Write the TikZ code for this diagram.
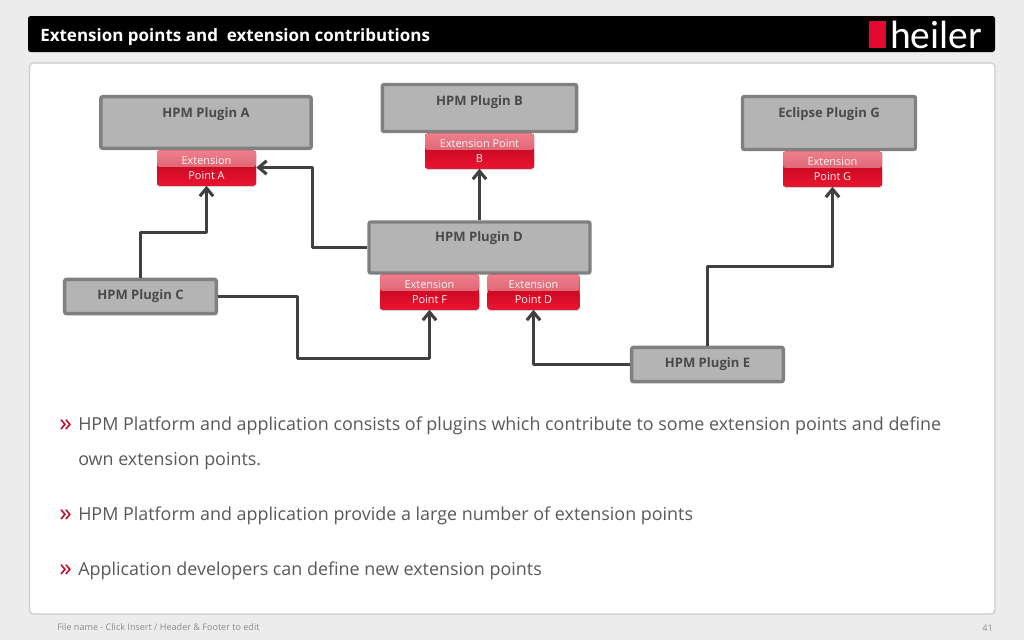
\documentclass[tikz,border=0pt]{standalone}
\usepackage{fontspec}
\setmainfont{Open Sans}
\newfontfamily\logofont{Carlito}
\usetikzlibrary{arrows.meta,calc,shadows}
\definecolor{pagebg}{HTML}{ECECEC}
\definecolor{plugfill}{HTML}{B4B4B4}
\definecolor{plugline}{HTML}{808080}
\definecolor{plugtext}{HTML}{4A4A4A}
\definecolor{redtop}{HTML}{EE7F8C}
\definecolor{redmid}{HTML}{D04A5C}
\definecolor{reddark}{HTML}{CF0A24}
\definecolor{redlow}{HTML}{EA1431}
\definecolor{linkcol}{HTML}{404040}
\definecolor{bodytext}{HTML}{595959}
\definecolor{logored}{HTML}{E30A32}
\definecolor{footcol}{HTML}{8C8C8C}
\tikzset{
  x=0.75pt,y=-0.75pt,
  plugbox/.style={draw=plugline,line width=2.6pt,fill=plugfill,rounded corners=1.5pt,inner sep=0pt},
  plugtitle/.style={text=plugtext,font=\fontsize{9.8}{12}\selectfont\bfseries,anchor=center,inner sep=0pt},
  extpoint/.style={rounded corners=2pt,inner sep=0pt,align=center,text=white!88!pink,
    font=\fontsize{8.2}{11.6}\selectfont,fill=reddark,
    drop shadow={shadow xshift=0pt,shadow yshift=-1.2pt,opacity=.35},
    path picture={
      \fill[top color=redtop,bottom color=redmid]
        (path picture bounding box.north west) rectangle
        ($(path picture bounding box.east)+(0,-1)$);
      \fill[top color=reddark,bottom color=redlow]
        ($(path picture bounding box.west)+(0,-1)$) rectangle
        (path picture bounding box.south east);
    }},
  link/.style={draw=linkcol,line width=2.3pt,line join=round,-{Straight Barb[length=6pt,width=10pt,line width=2.3pt]}},
  bodyline/.style={anchor=base west,inner sep=0pt,text=bodytext,font=\fontsize{13.43}{18}\selectfont},
  bulletmark/.style={anchor=base west,inner sep=0pt,text=logored!85!black,font=\fontsize{19}{20}\selectfont},
  footer/.style={anchor=base west,inner sep=0pt,text=footcol,font=\fontsize{6.8}{9}\selectfont},
}
\begin{document}
\begin{tikzpicture}
\useasboundingbox (0,0) rectangle (1024,640);
\fill[pagebg] (0,0) rectangle (1024,640);
% header
\fill[black,rounded corners=2pt] (28,16) rectangle (995,52);
\node[anchor=base west,inner sep=0pt,text=white,font=\fontsize{12.75}{16}\selectfont\bfseries] (title) at (40,41) {Extension points and\ \ extension contributions};
\fill[logored] (869,21) rectangle (886,48);
\node[anchor=base west,inner sep=0pt,text=white,font=\logofont\fontsize{29.6}{30}\selectfont] (logo) at (890,48) {heiler};
% panel
\draw[draw=black!20,fill=white,line width=1pt,rounded corners=3pt] (29.5,63) rectangle (995,614);
% plugin boxes
\node[plugbox,minimum width=157.75pt,minimum height=38.75pt] (A) at (206,122.5) {};
\node[plugtitle] (Atitle) at (206,114.5) {HPM Plugin A};
\node[plugbox,minimum width=145.75pt,minimum height=35.25pt] (B) at (479.5,108) {};
\node[plugtitle] (Btitle) at (479.5,102.5) {HPM Plugin B};
\node[plugbox,minimum width=129.75pt,minimum height=39.75pt] (G) at (829,123) {};
\node[plugtitle] (Gtitle) at (829,114.5) {Eclipse Plugin G};
\node[plugbox,minimum width=165.75pt,minimum height=38.25pt] (D) at (479.5,247.5) {};
\node[plugtitle] (Dtitle) at (479,238.5) {HPM Plugin D};
\node[plugbox,minimum width=113.75pt,minimum height=25.75pt] (C) at (140.5,296.5) {};
\node[plugtitle] (Ctitle) at (140.5,296.5) {HPM Plugin C};
\node[plugbox,minimum width=113.75pt,minimum height=25.75pt] (E) at (707.5,364.5) {};
\node[plugtitle] (Etitle) at (707.5,364.5) {HPM Plugin E};
% extension points
\node[extpoint,minimum width=74.25pt,minimum height=26.25pt] (ptA) at (206.5,168) {Extension\\Point A};
\node[extpoint,minimum width=81.75pt,minimum height=26.25pt] (ptB) at (479.5,151) {Extension Point\\B};
\node[extpoint,minimum width=74.25pt,minimum height=26.25pt] (ptG) at (832.5,169) {Extension\\Point G};
\node[extpoint,minimum width=74.25pt,minimum height=26.25pt] (ptF) at (429.5,292) {Extension\\Point F};
\node[extpoint,minimum width=69pt,minimum height=26.25pt] (ptD) at (533.5,292) {Extension\\Point D};
% connectors
\coordinate (c1) at (206.5,232.5);
\coordinate (c2) at (312.5,167.5);
\coordinate (c3) at (297.5,358.5);
\coordinate (c5) at (707.5,266.5);
\draw[link] (C.north) |- (c1) -- (ptA.south);
\draw[link] (D.west) -| (c2) -- (ptA.east |- c2);
\draw[link] (D.north) -- (ptB.south);
\draw[link] (C.east) -| (c3) -| (ptF.south);
\draw[link] (E.west) -| (ptD.south);
\draw[link] (E.north) |- (c5) -| (ptG.south);
% body text
\node[bulletmark] (b1) at (59,431) {»};
\node[bodyline] (t1) at (78,430) {HPM Platform and application consists of plugins which contribute to some extension points and define};
\node[bodyline] (t1b) at (78,465) {own extension points.};
\node[bulletmark] (b2) at (59,521) {»};
\node[bodyline] (t2) at (78,520) {HPM Platform and application provide a large number of extension points};
\node[bulletmark] (b3) at (59,576) {»};
\node[bodyline] (t3) at (78,575) {Application developers can define new extension points};
% footer
\node[footer] (foot) at (57,630) {File name - Click Insert / Header \& Footer to edit};
\node[footer,anchor=base east] (page) at (993,631) {41};
\end{tikzpicture}
\end{document}
